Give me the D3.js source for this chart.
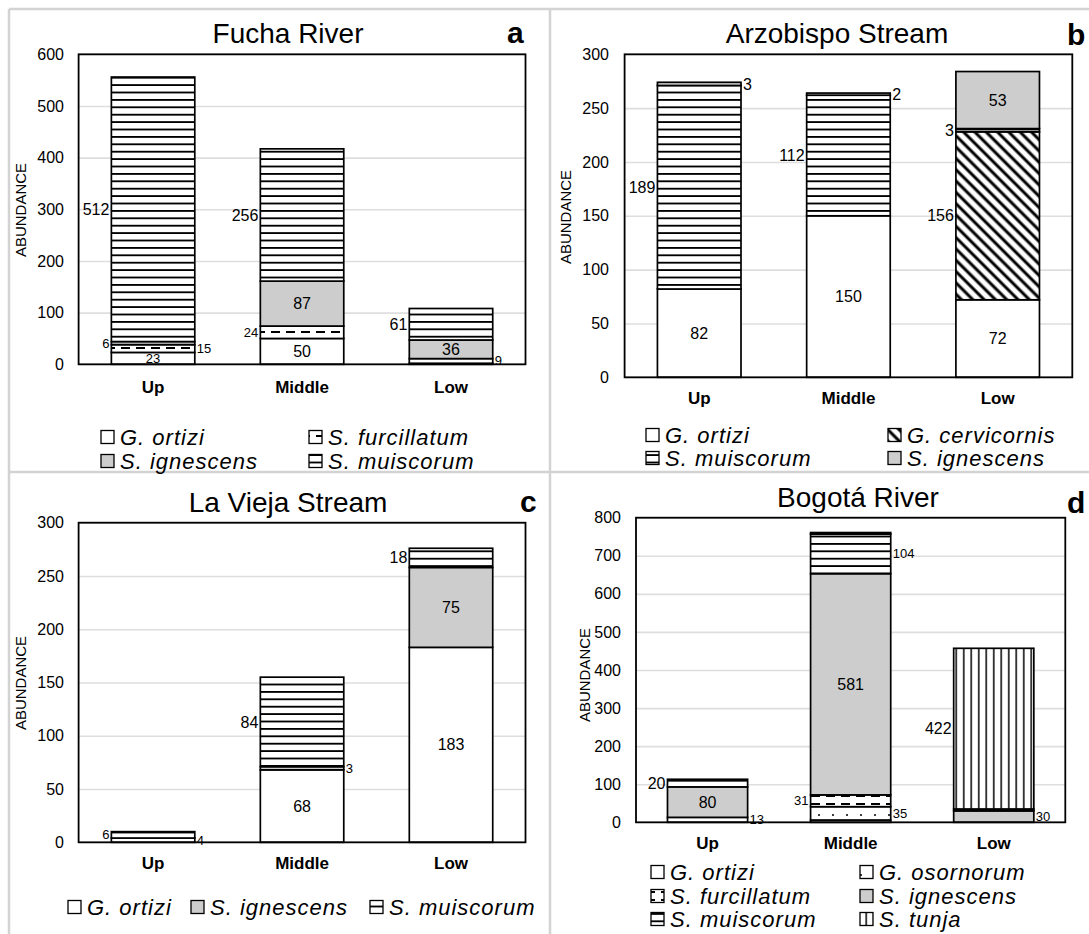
<!DOCTYPE html>
<html>
<head>
<meta charset="utf-8">
<script src="https://cdn.jsdelivr.net/npm/d3@7"></script>
<style>
  body { margin: 0; background: #fff; }
  svg text { font-family: "Liberation Sans", Arial, sans-serif; fill: #000; }
</style>
</head>
<body>
<svg id="chart" width="1089" height="934"></svg>
<script>
// shared categories
const sites = ['Up', 'Middle', 'Low'];

// a - Fucha River
const fuchaSpecies = ['G. ortizi', 'S. furcillatum', 'S. ignescens', 'S. muiscorum'];
const fuchaValues = [[23, 50, 2], [15, 24, 9], [6, 87, 36], [512, 256, 61]];
const fuchaTicks = [0, 100, 200, 300, 400, 500, 600];

// b - Arzobispo Stream
const arzoSpecies = ['G. ortizi', 'G. cervicornis', 'S. muiscorum', 'S. ignescens'];
const arzoValues = [[82, 150, 72], [0, 0, 156], [189, 112, 3], [3, 2, 53]];
const arzoTicks = [0, 50, 100, 150, 200, 250, 300];

// c - La Vieja Stream
const viejaSpecies = ['G. ortizi', 'S. ignescens', 'S. muiscorum'];
const viejaValues = [[4, 68, 183], [0, 3, 75], [6, 84, 18]];
const viejaTicks = [0, 50, 100, 150, 200, 250, 300];

// d - Bogotá River
const bogotaSpecies = ['G. ortizi', 'G. osornorum', 'S. furcillatum', 'S. ignescens', 'S. muiscorum', 'S. tunja'];
const bogotaValues = [[13, 6, 0], [0, 35, 0], [0, 31, 0], [80, 581, 30], [20, 104, 5], [0, 4, 422]];
const bogotaTicks = [0, 100, 200, 300, 400, 500, 600, 700, 800];

// label placement (c = centre, l = left, r = right, s = small), '' = no label
const fuchaLabelStyle = [['cs', 'c', ''], ['rs', 'ls', 'rs'], ['ls', 'c', 'c'], ['l', 'l', 'l']];
const arzoLabelStyle = [['c', 'c', 'c'], ['', '', 'l'], ['l', 'l', 'l'], ['r', 'r', 'c']];
const viejaLabelStyle = [['rs', 'c', 'c'], ['', 'rs', 'c'], ['ls', 'l', 'l']];
const bogotaLabelStyle = [['rs', '', ''], ['', 'rs', ''], ['', 'ls', ''], ['c', 'c', 'rs'], ['l', 'rs', ''], ['', '', 'l']];

const fills = {
  'G. ortizi': '#fff',
  'S. furcillatum': 'url(#p-dash)',
  'S. ignescens': '#cdcdcd',
  'S. muiscorum': 'url(#p-hline)',
  'G. cervicornis': 'url(#p-diag)',
  'G. osornorum': 'url(#p-dots)',
  'S. tunja': 'url(#p-vline)'
};

const svg = d3.select('#chart');
const defs = svg.append('defs');

// patterns
function pattern(id, w, h, draw, transform) {
  const p = defs.append('pattern')
    .attr('id', id)
    .attr('patternUnits', 'userSpaceOnUse')
    .attr('width', w).attr('height', h);
  if (transform) p.attr('patternTransform', transform);
  p.append('rect').attr('width', w).attr('height', h).attr('fill', '#fff');
  draw(p);
}
pattern('p-hline', 10, 7.4, p => p.append('line')
  .attr('x1', 0).attr('x2', 10).attr('y1', 3.7).attr('y2', 3.7)
  .attr('stroke', '#000').attr('stroke-width', 1.8));
pattern('p-dash', 15, 8, p => p.append('line')
  .attr('x1', 1).attr('x2', 10).attr('y1', 4).attr('y2', 4)
  .attr('stroke', '#000').attr('stroke-width', 2));
pattern('p-dots', 14, 10, p => p.append('circle')
  .attr('cx', 7).attr('cy', 5).attr('r', 1).attr('fill', '#000'));
pattern('p-diag', 8, 8, p => p.append('line')
  .attr('x1', 4).attr('x2', 4).attr('y1', 0).attr('y2', 8)
  .attr('stroke', '#000').attr('stroke-width', 3), 'rotate(-45)');
pattern('p-vline', 7.5, 10, p => p.append('line')
  .attr('x1', 3.75).attr('x2', 3.75).attr('y1', 0).attr('y2', 10)
  .attr('stroke', '#000').attr('stroke-width', 1.5));

// panel frames (light grey)
const frame = svg.append('g').attr('stroke', '#d3d3d3').attr('stroke-width', 2.5);
frame.append('line').attr('x1', 9).attr('x2', 1089).attr('y1', 9).attr('y2', 9);
frame.append('line').attr('x1', 9).attr('x2', 9).attr('y1', 9).attr('y2', 934);
frame.append('line').attr('x1', 550).attr('x2', 550).attr('y1', 9).attr('y2', 934);
frame.append('line').attr('x1', 9).attr('x2', 1089).attr('y1', 472).attr('y2', 472);

function drawPanel(cfg) {
  const { species, values, ticks, styles, box } = cfg;
  const g = svg.append('g');

  const x = d3.scaleBand().domain(sites).range([box.left, box.right]).paddingInner(0.44).paddingOuter(0.22);
  const y = d3.scaleLinear().domain([0, d3.max(ticks)]).range([box.bottom, box.top]);

  // grid + y ticks
  const ya = g.append('g')
    .attr('transform', `translate(${box.left},0)`)
    .call(d3.axisLeft(y).tickValues(ticks).tickSize(-(box.right - box.left)).tickPadding(box.left - box.tickX));
  ya.select('.domain').remove();
  ya.selectAll('line').attr('stroke', '#dedede').attr('stroke-width', 1.6);
  ya.selectAll('text').attr('font-size', 16);

  // x labels
  const xa = g.append('g')
    .attr('transform', `translate(0,${box.bottom})`)
    .call(d3.axisBottom(x).tickSize(0).tickPadding(box.xlabPad));
  xa.select('.domain').remove();
  xa.selectAll('text').attr('font-size', 17).attr('font-weight', 'bold');

  // stacked bars
  const rows = sites.map((s, i) => {
    const r = { site: s };
    species.forEach((sp, k) => { r[sp] = values[k][i]; });
    return r;
  });
  const series = d3.stack().keys(species)(rows);

  series.forEach(ser => {
    ser.forEach(d => {
      if (d[1] - d[0] <= 0) return;
      g.append('rect')
        .attr('x', x(d.data.site))
        .attr('y', y(d[1]))
        .attr('width', x.bandwidth())
        .attr('height', y(d[0]) - y(d[1]))
        .attr('fill', fills[ser.key])
        .attr('stroke', '#000')
        .attr('stroke-width', 1.7);
    });
  });

  // value labels
  series.forEach((ser, k) => {
    ser.forEach((d, i) => {
      const st = styles[k][i];
      if (!st) return;
      const v = d[1] - d[0];
      const cy = (y(d[0]) + y(d[1])) / 2;
      const x0 = x(d.data.site);
      let tx = x0 + x.bandwidth() / 2, anchor = 'middle';
      if (st[0] === 'l') { tx = x0 - 2; anchor = 'end'; }
      if (st[0] === 'r') { tx = x0 + x.bandwidth() + 2; anchor = 'start'; }
      g.append('text')
        .attr('x', tx).attr('y', cy)
        .attr('dy', '0.35em')
        .attr('text-anchor', anchor)
        .attr('font-size', st.includes('s') ? 13 : 16)
        .text(v);
    });
  });

  // plot border
  g.append('rect')
    .attr('x', box.left).attr('y', box.top)
    .attr('width', box.right - box.left).attr('height', box.bottom - box.top)
    .attr('fill', 'none').attr('stroke', '#000').attr('stroke-width', 1.8);

  // title, panel letter, y title
  g.append('text').attr('x', box.titleX).attr('y', box.titleY)
    .attr('text-anchor', 'middle').attr('font-size', 28).text(cfg.title);
  g.append('text').attr('x', box.letterX).attr('y', box.letterY)
    .attr('font-size', 30).attr('font-weight', 'bold').text(cfg.letter);
  g.append('text')
    .attr('transform', `translate(${box.ylabX},${box.ylabY}) rotate(-90)`)
    .attr('text-anchor', 'middle').attr('dy', '0.35em')
    .attr('font-size', 15).text('ABUNDANCE');

  // legend
  species.forEach((sp, k) => {
    const [lx, ly] = box.legendPos[k];
    g.append('rect')
      .attr('x', lx).attr('y', ly - 6.5).attr('width', 13).attr('height', 13)
      .attr('fill', fills[sp]).attr('stroke', '#000').attr('stroke-width', 1.3);
    g.append('text')
      .attr('x', lx + 19).attr('y', ly).attr('dy', '0.36em')
      .attr('font-size', 22).attr('font-style', 'italic')
      .attr('letter-spacing', 1)
      .text(sp);
  });
}

drawPanel({
  title: 'Fucha River', letter: 'a',
  species: fuchaSpecies, values: fuchaValues, ticks: fuchaTicks, styles: fuchaLabelStyle,
  box: {
    left: 78.6, right: 525.5, top: 54.3, bottom: 364.3, tickX: 64, xlabPad: 17,
    titleX: 288, titleY: 43, letterX: 507, letterY: 43, ylabX: 21, ylabY: 210,
    legendPos: [[101, 437], [309, 437], [101, 461], [309, 461]]
  }
});

drawPanel({
  title: 'Arzobispo Stream', letter: 'b',
  species: arzoSpecies, values: arzoValues, ticks: arzoTicks, styles: arzoLabelStyle,
  box: {
    left: 624.6, right: 1072.3, top: 54.3, bottom: 377.3, tickX: 609, xlabPad: 15,
    titleX: 837, titleY: 43, letterX: 1067, letterY: 45, ylabX: 566, ylabY: 217,
    legendPos: [[646, 435], [888, 435], [646, 458], [888, 458]]
  }
});

drawPanel({
  title: 'La Vieja Stream', letter: 'c',
  species: viejaSpecies, values: viejaValues, ticks: viejaTicks, styles: viejaLabelStyle,
  box: {
    left: 78.6, right: 525.5, top: 522.7, bottom: 842.3, tickX: 64, xlabPad: 15,
    titleX: 288, titleY: 512, letterX: 520, letterY: 512, ylabX: 21, ylabY: 683,
    legendPos: [[68, 907], [191, 907], [370, 907]]
  }
});

drawPanel({
  title: 'Bogotá River', letter: 'd',
  species: bogotaSpecies, values: bogotaValues, ticks: bogotaTicks, styles: bogotaLabelStyle,
  box: {
    left: 636, right: 1065.3, top: 517.7, bottom: 822.3, tickX: 621, xlabPad: 15,
    titleX: 858, titleY: 507, letterX: 1067, letterY: 513, ylabX: 585, ylabY: 675,
    legendPos: [[651, 872], [860, 872], [651, 896], [860, 896], [651, 919], [860, 919]]
  }
});
</script>
</body>
</html>
